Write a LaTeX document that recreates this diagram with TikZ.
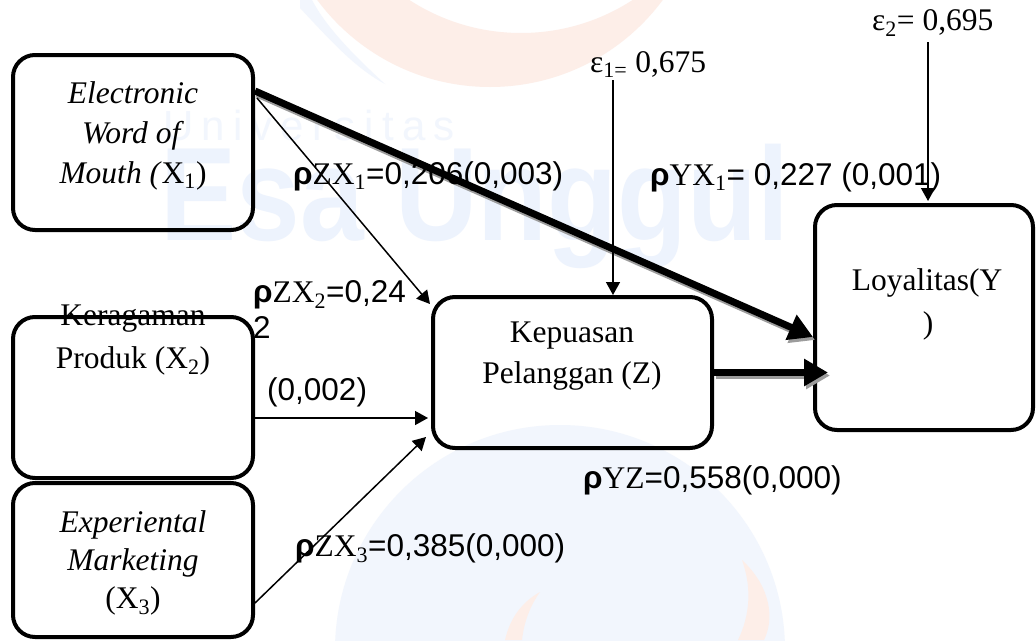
\documentclass[tikz,border=0pt]{standalone}
\usepackage{fontspec}
\setmainfont{Liberation Serif}
\newfontfamily\arialf{Liberation Sans}
\newfontfamily\wmspaced[LetterSpace=20]{Liberation Sans}
\usetikzlibrary{arrows.meta,calc}

\definecolor{wmblue}{HTML}{EDF3FD}
\definecolor{wmbluelight}{HTML}{F2F6FD}
\definecolor{wmorange}{HTML}{FDEEE8}
\definecolor{shadowgray}{HTML}{9C9C9C}

\tikzset{
  varbox/.style 2 args={draw=black, line width=4pt, rounded corners=22pt,
    inner sep=0pt, minimum width=#1, minimum height=#2},
  txt/.style={anchor=base, inner sep=0pt, font=\fontsize{31.5}{36}\selectfont},
  lbl/.style={anchor=base west, inner sep=0pt, font=\fontsize{31.5}{36}\selectfont},
  thinarrow/.style={line width=1.5pt, -{Triangle[length=13pt,width=14pt]}},
  heavyarrow/.style={line width=7pt, -{Triangle[length=24pt,width=26pt]}},
}
\newcommand{\rhob}{{\arialf\bfseries ρ}}
\newcommand{\sans}[1]{{\arialf #1}}

\begin{document}
\begin{tikzpicture}[x=1pt,y=-1pt]
\useasboundingbox (0,0) rectangle (1036,640);
\fill[white] (0,0) rectangle (1036,640);

% faint background mark
\begin{scope}
  \clip (0,0) rectangle (1036,640);
  \fill[wmorange, even odd rule] (490,-128) circle (215) (521,-172) circle (205);
  \fill[wmbluelight] (300,8) .. controls (330,40) and (355,68) .. (385,84)
        .. controls (350,52) and (325,25) .. (312,0) -- (300,0) -- cycle;
  \fill[wmbluelight] (560,650) circle (225);
  \fill[wmorange] (742,560) .. controls (772,588) and (774,620) .. (764,640)
        -- (738,640) .. controls (750,615) and (752,588) .. (742,560) -- cycle;
  \fill[wmorange] (505,640) .. controls (510,618) and (522,602) .. (540,592)
        .. controls (530,606) and (524,622) .. (522,640) -- cycle;
  \node[anchor=base west, inner sep=0pt, text=wmbluelight,
        font=\wmspaced\fontsize{42}{42}\selectfont] (wmuni) at (163,140) {Universitas};
  \node[anchor=base west, inner sep=0pt, text=wmblue,
        font=\arialf\bfseries\fontsize{133}{133}\selectfont] (wmesa) at (160,240)
        {\scalebox{0.86}[1]{Esa Unggul}};
\end{scope}

% the first line of X2 sits under the frame
\node[txt] (kp1) at (133,325) {Keragaman};

% variable boxes
\node[varbox={240pt}{175pt}] (ewom) at (133,142.5) {};
\node[varbox={240pt}{161pt}] (kp)   at (133,397.5) {};
\node[varbox={240pt}{154pt}] (em)   at (133,560) {};
\node[varbox={279pt}{151pt}] (kep)  at (572.5,372.5) {};
\node[varbox={218pt}{225pt}] (loy)  at (924,317.5) {};

% box texts
\node[txt] (ewom1) at (133,103) {\textit{Electronic}};
\node[txt] (ewom2) at (133,143) {\textit{Word of}};
\node[txt] (ewom3) at (133,183) {\textit{Mouth (}X\textsubscript{1})};
\node[txt] (kp2) at (133,368) {Produk (X\textsubscript{2})};
\node[txt] (em1) at (133,532) {\textit{Experiental}};
\node[txt] (em2) at (133,570) {\textit{Marketing}};
\node[txt] (em3) at (133,608) {(X\textsubscript{3})};
\node[txt] (kep1) at (572,342) {Kepuasan};
\node[txt] (kep2) at (572,383) {Pelanggan (Z)};
\node[txt] (loy1) at (927,290) {Loyalitas(Y};
\node[txt] (loy2) at (928,333) {)};

% end points of the connectors
\coordinate (d1s) at ($(ewom.north east)+(0,38)$);
\coordinate (d1e) at ($(loy.west)+(0,19.5)$);
\coordinate (d2s) at (kep.east);
\coordinate (d2e) at ($(loy.west)+(15,55)$);
\coordinate (e1) at (613,80);
\coordinate (e2) at (928,42);

% heavy paths with their grey shadow
\draw[heavyarrow, shadowgray] ($(d1s)+(2,3)$) -- ($(d1e)+(2,3)$);
\draw[heavyarrow, shadowgray] ($(d2s)+(2,3)$) -- ($(d2e)+(2,3)$);
\draw[heavyarrow] (d1s) -- (d1e);
\draw[heavyarrow] (d2s) -- (d2e);

% thin paths
\draw[thinarrow] ($(ewom.north east)+(2,45)$) -- ($(kep.north west)+(-1,9)$);
\draw[thinarrow] ($(kp.east)+(0,20.5)$) -- ($(kep.west)+(-3,45.5)$);
\draw[thinarrow] ($(em.east)+(0,43)$) -- ($(kep.west)+(-5,64.5)$);
\draw[thinarrow] (e1) -- ($(kep.north)+(40.5,0)$);
\draw[thinarrow] (e2) -- ($(loy.north)+(4,-2)$);

% error terms
\node[lbl] (eps1) at (590,72) {ε\textsubscript{1=} 0,675};
\node[lbl] (eps2) at (872,30) {ε\textsubscript{2}= 0,695};

% coefficients
\node[lbl] (czx1) at (293,184) {\rhob ZX\textsubscript{1}\sans{=0,206(0,003)}};
\node[lbl] (cyx1) at (650,185) {\rhob YX\textsubscript{1}\sans{= 0,227 (0,001)}};
\node[lbl] (czx2a) at (253,302) {\rhob ZX\textsubscript{2}\sans{=0,24}};
\node[lbl] (czx2b) at (253,338) {\sans{2}};
\node[lbl] (czx2c) at (267,400) {\sans{(0,002)}};
\node[lbl] (cyz) at (583,488) {\rhob YZ\sans{=0,558(0,000)}};
\node[lbl] (czx3) at (295,556) {\rhob ZX\textsubscript{3}\sans{=0,385(0,000)}};
\end{tikzpicture}
\end{document}
